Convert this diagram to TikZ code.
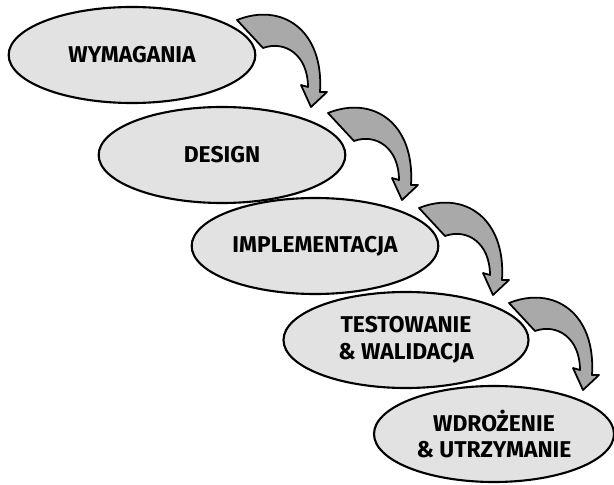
\documentclass[tikz,border=0pt]{standalone}
\usepackage{fontspec}
\setmainfont{Fira Sans}
\usetikzlibrary{shapes.geometric, positioning, calc}

\definecolor{stagegray}{HTML}{E2E2E2}
\definecolor{arrowgray}{HTML}{A9A9A9}

\tikzset{
  % curved block arrow, drawn from the tail corner
  steparrow/.pic={
    \draw[arrowline] (0,0) -- (26,28) .. controls (48,20) and (71,35) .. (71,67)
      -- (64,65) -- (74,87) -- (90,72) -- (83,72)
      .. controls (87,10) and (45,-18) .. (0,0) -- cycle;
  }
}

\begin{document}
\begin{tikzpicture}[
    x=0.03cm, y=-0.03cm,
    stage/.style={ellipse, draw, line width=1.8pt, fill=stagegray,
      minimum width=7.4cm, minimum height=2.88cm, inner sep=0pt,
      align=center, font=\bfseries\fontsize{19.5}{23}\selectfont},
    arrowline/.style={draw=black, line width=1.5pt, fill=arrowgray, line join=round},
]
\useasboundingbox (0,0) rectangle (614,485);

% Nodes
\node[stage] (req) at (132,55) {WYMAGANIA};
\node[stage] (design) at (222,155) {DESIGN};
\node[stage] (impl) at (315,246) {IMPLEMENTACJA};
\node[stage, minimum width=7.35cm] (test) at (406,340) {TESTOWANIE\\\& WALIDACJA};
\node[stage, minimum width=7.2cm] (deploy) at (494,434) {WDROŻENIE\\\& UTRZYMANIE};

% Arrows between stages
\pic at ([shift={(105,-35)}]req.center) {steparrow};
\pic at ([shift={(106,-42)}]design.center) {steparrow};
\pic at ([shift={(104,-38)}]impl.center) {steparrow};
\pic at ([shift={(103,-37)}]test.center) {steparrow};

\end{tikzpicture}
\end{document}
